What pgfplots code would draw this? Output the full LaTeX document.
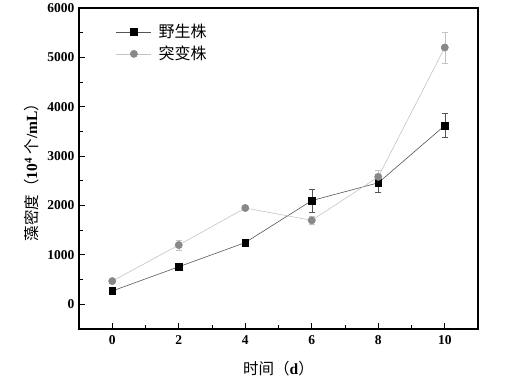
\documentclass[border=0pt]{standalone}
\usepackage{fontspec}
\setmainfont{Liberation Serif}
\newfontfamily\cjk{Noto Sans CJK SC}
\usepackage{pgfplots}
\pgfplotsset{compat=1.18}
\definecolor{wildline}{HTML}{555555}
\definecolor{mutline}{HTML}{C4C4C4}
\definecolor{mutmark}{HTML}{888888}
\begin{document}
\begin{tikzpicture}
\begin{axis}[name=ax, scale only axis, width=399pt, height=321pt,
  xmin=-1, xmax=11, ymin=-500, ymax=6000,
  xtick={0,2,...,10}, minor xtick={1,3,...,9},
  ytick={0,1000,...,6000}, minor ytick={500,1500,...,5500},
  tick align=inside, xtick pos=bottom, ytick pos=left,
  major tick length=6pt, minor tick length=3.5pt,
  axis line style={line width=1.1pt},
  every tick/.style={line width=0.9pt, black},
  ticklabel style={font=\fontsize{13.5}{13.5}\selectfont\bfseries},
  xticklabel style={yshift=-3pt},
  yticklabel style={xshift=-1pt},
  /pgf/number format/assume math mode=true,
  /pgf/number format/1000 sep={},
  xlabel={{\cjk 时间（}\textbf{d}{\cjk ）}},
  ylabel={{\cjk 藻密度（}\textbf{10}\textsuperscript{\textbf{4}} {\cjk 个}\textbf{/mL}{\cjk ）}},
  label style={font=\fontsize{15.5}{15.5}\selectfont},
  xlabel style={yshift=-10pt},
  ylabel style={yshift=2pt},
  legend style={draw=none, fill=none, at={(rel axis cs:0.085,0.962)}, anchor=north west,
    font=\fontsize{16}{16}\selectfont, row sep=3pt},
  legend cell align=left,
  legend image code/.code={\draw[mark repeat=2,mark phase=2,#1] plot coordinates {(0pt,0pt)(17.5pt,0pt)(35pt,0pt)}; \path (40pt,0pt);},
]
\addplot[wildline, line width=0.6pt, mark=square*, mark size=3.3pt,
  mark options={black, fill=black, solid},
  error bars/.cd, y dir=both, y explicit,
  error bar style={wildline, line width=0.5pt},
  error mark options={rotate=90, mark size=3pt, wildline}]
  coordinates {
  (0,270) +- (0,30)
  (2,760) +- (0,50)
  (4,1250) +- (0,70)
  (6,2100) +- (0,225)
  (8,2460) +- (0,180)
  (10,3620) +- (0,240)
  };
\addlegendentry{\cjk 野生株}
\addplot[mutline, line width=0.6pt, mark=*, mark size=3.6pt,
  mark options={mutmark, fill=mutmark, solid},
  error bars/.cd, y dir=both, y explicit,
  error bar style={mutline, line width=0.5pt},
  error mark options={rotate=90, mark size=3pt, mutline}]
  coordinates {
  (0,470) +- (0,30)
  (2,1200) +- (0,100)
  (4,1950) +- (0,50)
  (6,1700) +- (0,80)
  (8,2580) +- (0,130)
  (10,5200) +- (0,320)
  };
\addlegendentry{\cjk 突变株}
\end{axis}
\path[use as bounding box] ([xshift=-79pt,yshift=-60pt]ax.south west) rectangle ([xshift=32pt,yshift=8pt]ax.north east);
\end{tikzpicture}
\end{document}
